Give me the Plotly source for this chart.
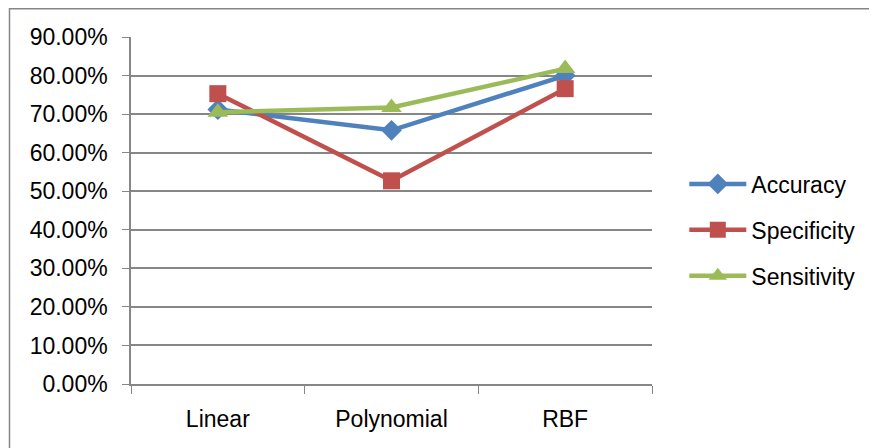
import plotly.graph_objects as go

categories = ["Linear", "Polynomial", "RBF"]
accuracy = [0.712, 0.658, 0.800]
specificity = [0.753, 0.527, 0.766]
sensitivity = [0.705, 0.717, 0.818]

series = [
    ("Accuracy", accuracy, "#4F81BD", "diamond", 16),
    ("Specificity", specificity, "#C0504D", "square", 17),
    ("Sensitivity", sensitivity, "#9BBB59", "triangle-up", 18),
]

fig = go.Figure()
for i, (name, vals, color, sym, sz) in enumerate(series):
    fig.add_trace(go.Scatter(
        x=categories, y=vals, name=name, mode="lines+markers",
        line=dict(color=color, width=4.5),
        marker=dict(symbol=sym, size=sz, color=color),
        legendgroup=f"g{i}",
    ))

FONT = "Liberation Sans"
FS = 23
# page has an 8px body margin; plot area in page coords: x 131..652, y 37..384
L, T = 123, 29
PW, PH = 521, 347
fig.update_layout(
    width=877, height=448,
    margin=dict(l=L, r=877 - L - PW, t=T, b=448 - T - PH),
    paper_bgcolor="white", plot_bgcolor="white",
    font=dict(family=FONT, size=FS, color="black"),
    showlegend=True,
    legend=dict(x=1.062, y=(376 - 222) / PH, xanchor="left", yanchor="middle",
                itemwidth=57, tracegroupgap=13, traceorder="grouped",
                font=dict(family=FONT, size=FS)),
    xaxis=dict(type="category", range=[-0.5, 2.5], tickson="boundaries",
               ticks="outside", ticklen=8, tickcolor="#868686",
               showline=True, linecolor="#868686", linewidth=1.5,
               showgrid=False, tickfont=dict(size=FS), fixedrange=True,
               ticklabelstandoff=14),
    yaxis=dict(range=[0, 0.9], dtick=0.1, tickformat=".2%",
               ticks="outside", ticklen=7, tickcolor="#868686",
               showline=True, linecolor="#868686", linewidth=1.5,
               showgrid=True, gridcolor="#868686", gridwidth=1.5,
               zeroline=False, tickfont=dict(size=FS), fixedrange=True,
               ticklabelstandoff=10),
    shapes=[dict(type="rect", xref="paper", yref="paper",
                 x0=(1.5 - L) / PW, x1=(900 - L) / PW,
                 y0=(T + PH - 470) / PH, y1=(T + PH - 0.75) / PH,
                 line=dict(color="#868686", width=1.5), layer="below")],
)

fig.write_html("out.html")
